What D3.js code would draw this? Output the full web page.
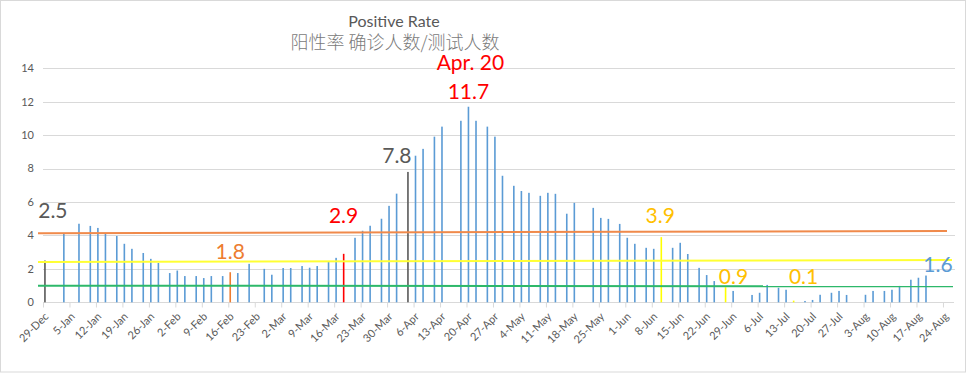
<!DOCTYPE html>
<html>
<head>
<meta charset="utf-8">
<script src="https://cdn.jsdelivr.net/npm/d3@7"></script>
<style>
 body { margin: 0; background: #fff; }
 svg { display: block; font-family: Lato, "Open Sans", sans-serif; }
</style>
</head>
<body>
<div id="chart"></div>
<script>
 // DATA

 // days with a reported positive rate (%)
 var dates = [
     "2020-12-29", "2021-01-03", "2021-01-07", "2021-01-10", "2021-01-12", "2021-01-14",
     "2021-01-17", "2021-01-19", "2021-01-21", "2021-01-24", "2021-01-26", "2021-01-28",
     "2021-01-31", "2021-02-02", "2021-02-04", "2021-02-07", "2021-02-09", "2021-02-11",
     "2021-02-14", "2021-02-16", "2021-02-18", "2021-02-21", "2021-02-25", "2021-02-27",
     "2021-03-02", "2021-03-04", "2021-03-07", "2021-03-09", "2021-03-11", "2021-03-14",
     "2021-03-16", "2021-03-18", "2021-03-21", "2021-03-23", "2021-03-25", "2021-03-28",
     "2021-03-30", "2021-04-01", "2021-04-04", "2021-04-06", "2021-04-08", "2021-04-11",
     "2021-04-13", "2021-04-18", "2021-04-20", "2021-04-22", "2021-04-25", "2021-04-27",
     "2021-04-29", "2021-05-02", "2021-05-04", "2021-05-06", "2021-05-09", "2021-05-11",
     "2021-05-13", "2021-05-16", "2021-05-18", "2021-05-23", "2021-05-25", "2021-05-27",
     "2021-05-30", "2021-06-01", "2021-06-03", "2021-06-06", "2021-06-08", "2021-06-10",
     "2021-06-13", "2021-06-15", "2021-06-17", "2021-06-20", "2021-06-22", "2021-06-24",
     "2021-06-27", "2021-06-29", "2021-07-04", "2021-07-06", "2021-07-08", "2021-07-11",
     "2021-07-13", "2021-07-15", "2021-07-18", "2021-07-20", "2021-07-22", "2021-07-25",
     "2021-07-27", "2021-07-29", "2021-08-03", "2021-08-05", "2021-08-08", "2021-08-10",
     "2021-08-12", "2021-08-15", "2021-08-17", "2021-08-19"
 ];
 var rates = [
     2.5, 4.15, 4.7, 4.57, 4.45, 4.1,
     3.97, 3.5, 3.2, 2.95, 2.6, 2.35,
     1.75, 1.9, 1.57, 1.57, 1.45, 1.57,
     1.57, 1.8, 1.75, 2.3, 2.0, 1.65,
     2.05, 2.05, 2.17, 2.07, 2.17, 2.44,
     2.66, 2.9, 3.86, 4.28, 4.58, 5.0,
     5.77, 6.5, 7.8, 8.77, 9.18, 9.91,
     10.51, 10.86, 11.7, 10.86, 10.51, 9.91,
     7.57, 6.97, 6.66, 6.55, 6.37, 6.55,
     6.49, 5.3, 5.95, 5.65, 5.05, 4.99,
     4.69, 3.86, 3.5, 3.26, 3.2, 3.9,
     3.26, 3.56, 2.89, 2.06, 1.63, 1.27,
     0.9, 0.68, 0.44, 0.57, 1.04, 0.87,
     0.75, 0.1, 0.08, 0.14, 0.45, 0.57,
     0.68, 0.44, 0.45, 0.68, 0.68, 0.75,
     0.98, 1.35, 1.47, 1.6
 ];

 // weekly tick labels
 var tickLabels = [
     "29-Dec", "5-Jan", "12-Jan", "19-Jan", "26-Jan", "2-Feb", "9-Feb", "16-Feb", "23-Feb",
     "2-Mar", "9-Mar", "16-Mar", "23-Mar", "30-Mar", "6-Apr", "13-Apr", "20-Apr", "27-Apr",
     "4-May", "11-May", "18-May", "25-May", "1-Jun", "8-Jun", "15-Jun", "22-Jun", "29-Jun",
     "6-Jul", "13-Jul", "20-Jul", "27-Jul", "3-Aug", "10-Aug", "17-Aug", "24-Aug"
 ];
 var yTicks = [0, 2, 4, 6, 8, 10, 12, 14];

 // highlighted bars
 var markDates = ["2020-12-29", "2021-02-16", "2021-03-18", "2021-04-04", "2021-06-10", "2021-06-27", "2021-07-15"];
 var markKinds = ["gray", "orange", "red", "gray", "yellow", "yellow", "yellow"];

 // text labels on the bars
 var noteDates = ["2020-12-29", "2021-02-16", "2021-03-18", "2021-04-04", "2021-04-20", "2021-04-20", "2021-06-10", "2021-06-27", "2021-07-15", "2021-08-19"];
 var noteTexts = ["2.5", "1.8", "2.9", "7.8", "11.7", "Apr. 20", "3.9", "0.9", "0.1", "1.6"];
 var noteKinds = ["gray", "orange", "red", "gray", "red", "red", "amber", "amber", "amber", "blue"];

 // reference lines, value at left end and right end
 var orangeLine = [4.13, 4.27];
 var yellowLine = [2.41, 2.53];
 var greenLine = [0.99, 0.96];

 // STYLE / LAYOUT

 var width = 967;
 var height = 373;
 var colours = {
     blue: "#5B9BD5", gray: "#595959", red: "#FF0000", orange: "#ED7D31",
     yellow: "#FFFF00", amber: "#FFC000"
 };
 // hand placed label nudges [dx, dy] from the bar top
 var noteOffsets = [[8, -43], [0, -13], [0, -31], [-11, -9], [0, -8], [2, -37], [-1, -14], [8, -3], [10, -17], [12, -4]];

 var parse = d3.timeParse("%Y-%m-%d");
 var start = parse(dates[0]);
 var axisEnd = d3.timeDay.offset(start, 241);

 // SCALES
 var xScale = d3.scaleTime().domain([start, axisEnd]).range([43, 954.3]);
 var yScale = d3.scaleLinear().domain([0, 14]).range([302.3, 68.3]);
 var halfDay = (xScale(d3.timeDay.offset(start, 1)) - xScale(start)) / 2;

 var tickDates = tickLabels.map(function(l, i) {
     return d3.timeDay.offset(start, 7 * i);
 });

 var svg = d3
     .select("#chart")
     .append("svg")
     .attr("width", width)
     .attr("height", height);

 // outer frame
 svg.append("rect")
     .attr("x", 0.5)
     .attr("y", 0.5)
     .attr("width", width - 2)
     .attr("height", height - 1.5)
     .attr("fill", "#fff")
     .attr("stroke", "#d9d9d9");

 // gridlines and y labels
 svg.append("g")
     .selectAll("line")
     .data(yTicks.slice(1))
     .enter()
     .append("line")
     .attr("x1", 43)
     .attr("x2", 955)
     .attr("y1", function(d) { return Math.round(yScale(d)) + 0.5; })
     .attr("y2", function(d) { return Math.round(yScale(d)) + 0.5; })
     .attr("stroke", "#d9d9d9")
     .attr("stroke-width", 1);

 svg.append("g")
     .selectAll("text")
     .data(yTicks)
     .enter()
     .append("text")
     .attr("x", 34)
     .attr("y", function(d) { return yScale(d); })
     .attr("dy", "0.35em")
     .attr("text-anchor", "end")
     .style("font-size", "11px")
     .attr("fill", "#595959")
     .text(function(d) { return d; });

 // x axis
 var xAxis = d3.axisBottom(xScale)
     .tickValues(tickDates)
     .tickSize(5)
     .tickFormat(function(d, i) { return tickLabels[i]; });

 var gx = svg.append("g")
     .attr("transform", "translate(0," + (Math.round(yScale(0)) + 0.5) + ")")
     .call(xAxis);
 gx.select(".domain").attr("stroke", "#d9d9d9").attr("d", "M43,0H954");
 gx.selectAll(".tick line").attr("stroke", "#d9d9d9");
 gx.selectAll(".tick text")
     .attr("fill", "#595959")
     .style("font-size", "11px")
     .style("font-family", "Lato, 'Open Sans', sans-serif")
     .attr("text-anchor", "end")
     .attr("y", 0)
     .attr("dy", "0.35em")
     .attr("transform", "translate(3,12) rotate(-45)");

 // bars
 var barData = dates.map(function(d, i) {
     var k = markDates.indexOf(d);
     return { date: parse(d), value: rates[i], kind: k < 0 ? "blue" : markKinds[k] };
 });

 svg.append("g")
     .selectAll("rect")
     .data(barData)
     .enter()
     .append("rect")
     .attr("x", function(d) { return xScale(d.date) + halfDay - 0.75; })
     .attr("width", 1.6)
     .attr("y", function(d) { return yScale(d.value); })
     .attr("height", function(d) { return yScale(0) - yScale(d.value); })
     .attr("fill", function(d) { return colours[d.kind]; });

 // reference lines
 var lineX = [38, 950];
 function refLine(vals, colour, x2) {
     svg.append("line")
         .attr("x1", lineX[0])
         .attr("x2", x2)
         .attr("y1", yScale(vals[0]))
         .attr("y2", yScale(vals[1]))
         .attr("stroke", colour)
         .attr("stroke-width", 2);
 }
 refLine(orangeLine, "#F08A4B", 947);
 refLine(yellowLine, "#FFFF33", 952);
 refLine(greenLine, "#2DB86A", 953);

 // bar labels
 svg.append("g")
     .selectAll("text")
     .data(noteTexts)
     .enter()
     .append("text")
     .attr("x", function(d, i) {
         return xScale(parse(noteDates[i])) + halfDay + noteOffsets[i][0];
     })
     .attr("y", function(d, i) {
         return yScale(rates[dates.indexOf(noteDates[i])]) + noteOffsets[i][1];
     })
     .attr("text-anchor", "middle")
     .style("font-size", "21px")
     .attr("fill", function(d, i) { return colours[noteKinds[i]]; })
     .text(function(d) { return d; });

 // titles
 svg.append("text")
     .attr("x", 394)
     .attr("y", 27)
     .attr("text-anchor", "middle")
     .style("font-size", "16px")
     .attr("fill", "#595959")
     .text("Positive Rate");

 svg.append("text")
     .attr("x", 395)
     .attr("y", 49)
     .attr("text-anchor", "middle")
     .style("font-size", "18px")
     .style("font-family", "'Noto Sans CJK SC', sans-serif")
     .style("font-weight", 300)
     .attr("fill", "#7a7a7a")
     .text("阳性率 确诊人数/测试人数");
</script>
</body>
</html>
